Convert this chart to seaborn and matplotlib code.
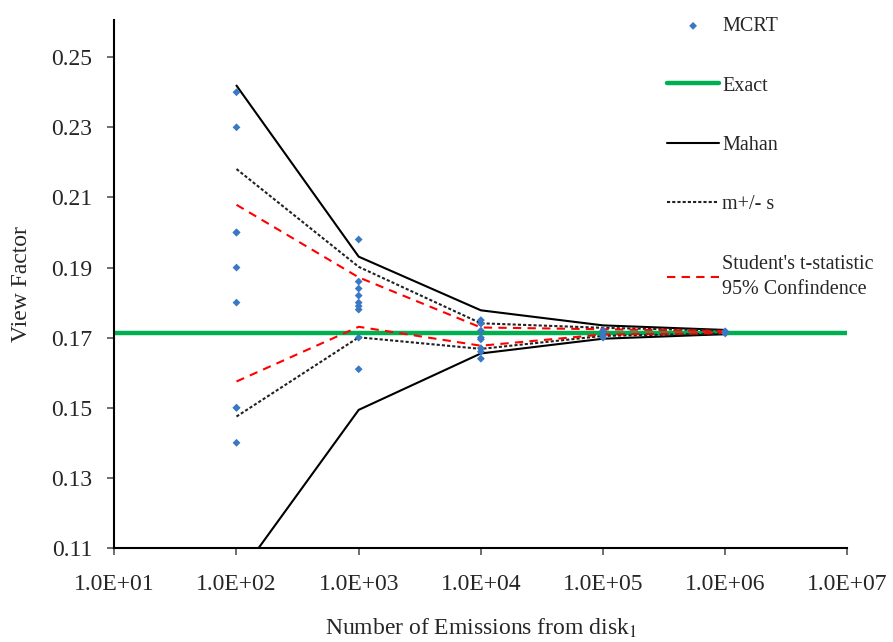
import numpy as np
import pandas as pd
import matplotlib
matplotlib.use("Agg")
import matplotlib.pyplot as plt
from matplotlib.ticker import FuncFormatter, FixedLocator, NullLocator
import seaborn as sns

# emissions (x positions of the runs)
emissions = [1e2, 1e3, 1e4, 1e5, 1e6]

# MCRT samples
mcrt_x = ([1e2] * 9) + ([1e3] * 9) + ([1e4] * 8) + ([1e5] * 4) + ([1e6] * 3)
mcrt_y = [0.240, 0.230, 0.200, 0.200, 0.190, 0.180, 0.150, 0.150, 0.140,
          0.198, 0.186, 0.184, 0.182, 0.180, 0.179, 0.178, 0.170, 0.161,
          0.175, 0.174, 0.172, 0.170, 0.1695, 0.167, 0.166, 0.164,
          0.172, 0.1715, 0.1705, 0.170,
          0.1718, 0.1712, 0.1715]

exact = 0.1713

mahan_up = [0.2419, 0.1931, 0.1778, 0.1735, 0.1722]
mahan_lo = [0.1013, 0.1494, 0.1655, 0.1697, 0.1710]
ms_up = [0.2181, 0.1902, 0.1741, 0.1728, 0.1720]
ms_lo = [0.1475, 0.1701, 0.1668, 0.1705, 0.1712]
t_up = [0.2079, 0.1872, 0.1729, 0.1724, 0.1719]
t_lo = [0.1575, 0.1731, 0.1677, 0.1709, 0.1713]

xticks = [1e1, 1e2, 1e3, 1e4, 1e5, 1e6, 1e7]
yticks = [0.11, 0.13, 0.15, 0.17, 0.19, 0.21, 0.23, 0.25]

sns.set_style("white")
plt.rcParams['font.family'] = ['Liberation Serif', 'DejaVu Serif']
plt.rcParams['mathtext.fontset'] = 'stix'

fig = plt.figure(figsize=(8.93, 6.42), dpi=100)
ax = fig.add_axes([0.128, 0.1464, 0.821, 0.8224])

sns.scatterplot(x=mcrt_x, y=mcrt_y, ax=ax, color="#3a78c4", marker="D", s=16,
                edgecolor="none", label="MCRT", zorder=5)
ax.axhline(exact, color="#00b050", lw=3.2, label="Exact", zorder=2)

sns.lineplot(x=emissions, y=mahan_up, ax=ax, color="black", lw=1.5, label="Mahan", zorder=3)
sns.lineplot(x=emissions, y=mahan_lo, ax=ax, color="black", lw=1.5, zorder=3)
sns.lineplot(x=emissions, y=ms_up, ax=ax, color="#222222", lw=1.5, dashes=False,
             linestyle=(0, (1.5, 1)), label="m+/- s", zorder=3)
sns.lineplot(x=emissions, y=ms_lo, ax=ax, color="#222222", lw=1.5, dashes=False,
             linestyle=(0, (1.5, 1)), zorder=3)
sns.lineplot(x=emissions, y=t_up, ax=ax, color="#ff0000", lw=1.5, dashes=False,
             linestyle=(0, (4, 3)), label="Student's t-statistic\n95% Confindence", zorder=4)
sns.lineplot(x=emissions, y=t_lo, ax=ax, color="#ff0000", lw=1.5, dashes=False,
             linestyle=(0, (4, 3)), zorder=4)

ax.set_xscale("log")
ax.set_xlim(1e1, 1e7)
ax.set_ylim(0.11, 0.2606)
ax.xaxis.set_major_locator(FixedLocator(xticks))
ax.xaxis.set_minor_locator(NullLocator())
ax.xaxis.set_major_formatter(FuncFormatter(
    lambda v, p: "1.0E+%02d" % int(round(np.log10(v)))))
ax.set_yticks(yticks)
ax.yaxis.set_major_formatter(FuncFormatter(lambda v, p: "%.2f" % v))

for s in ["top", "right"]:
    ax.spines[s].set_visible(False)
for s in ["left", "bottom"]:
    ax.spines[s].set_color("black")
    ax.spines[s].set_linewidth(1.5)
ax.tick_params(axis="both", direction="out", length=5, width=1.2,
               color="#555555", labelsize=17, left=True, bottom=True)
ax.tick_params(axis="y", pad=11)
ax.tick_params(axis="x", pad=14)

ax.set_xlabel("Number of Emissions from disk$_1$", fontsize=17, labelpad=15)
ax.set_ylabel("View Factor", fontsize=17, labelpad=14)

leg = ax.legend(loc="upper left", bbox_to_anchor=(0.729, 1.04), frameon=False,
                fontsize=14.5, handlelength=2.6, handletextpad=0.15,
                labelspacing=2.0, markerscale=1.0)
for t in leg.get_texts():
    t.set_linespacing(1.45)

fig.savefig("out.png", dpi=100)
